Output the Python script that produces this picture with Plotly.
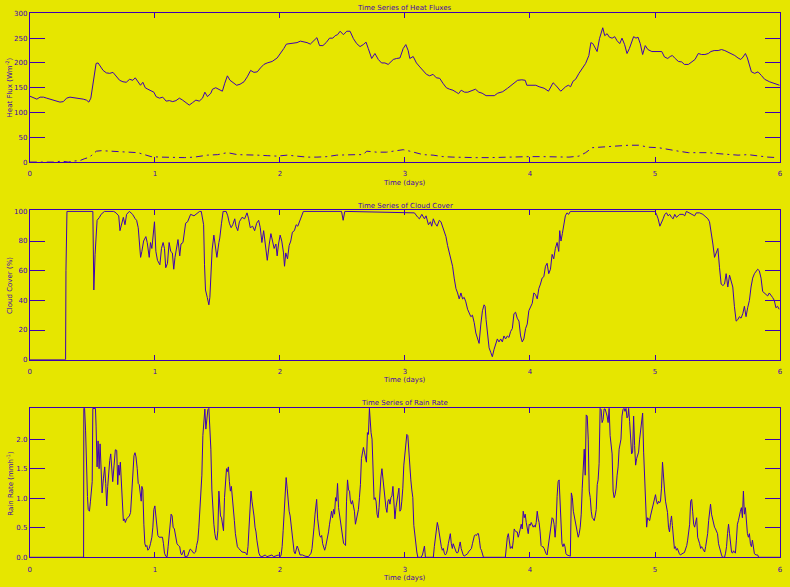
import plotly.graph_objects as go

# ---------------- data ----------------
days = [0, 1, 2, 3, 4, 5, 6]
heat_ticks = [0, 50, 100, 150, 200, 250, 300]
cloud_ticks = [0, 20, 40, 60, 80, 100]
rain_ticks = [0.0, 0.5, 1.0, 1.5, 2.0]

heat_t = [0.0, 0.029, 0.056, 0.082, 0.109, 0.135, 0.162, 0.188, 0.215, 0.241, 0.268, 0.294, 0.321, 0.347, 0.374, 0.400,
          0.427, 0.453, 0.472, 0.488, 0.498, 0.514, 0.530, 0.546, 0.565, 0.586, 0.612, 0.639, 0.665, 0.692, 0.718, 0.745,
          0.771, 0.798, 0.824, 0.843, 0.864, 0.885, 0.904, 0.923, 0.944, 0.970, 0.992, 1.010, 1.037, 1.063, 1.090, 1.116,
          1.143, 1.169, 1.196, 1.222, 1.249, 1.275, 1.302, 1.328, 1.355, 1.381, 1.400, 1.421, 1.448, 1.461, 1.487, 1.514,
          1.540, 1.559, 1.580, 1.601, 1.628, 1.654, 1.681, 1.713, 1.739, 1.766, 1.792, 1.819, 1.845, 1.872, 1.898, 1.938,
          1.978, 2.005, 2.031, 2.052, 2.084, 2.111, 2.137, 2.164, 2.190, 2.217, 2.243, 2.270, 2.296, 2.317, 2.344, 2.370,
          2.397, 2.423, 2.442, 2.461, 2.482, 2.508, 2.535, 2.561, 2.588, 2.614, 2.641, 2.667, 2.689, 2.707, 2.734, 2.760,
          2.787, 2.813, 2.840, 2.866,
          2.907, 2.933, 2.960, 2.986, 3.007, 3.026, 3.039, 3.066, 3.092, 3.119, 3.145, 3.172, 3.198, 3.225, 3.251, 3.278,
          3.304, 3.331, 3.357, 3.384, 3.410, 3.429, 3.450, 3.477, 3.503, 3.530, 3.564, 3.591, 3.617, 3.649, 3.676, 3.715,
          3.742, 3.782, 3.821, 3.861, 3.901, 3.935, 3.962, 3.975, 4.007, 4.047, 4.073, 4.113, 4.148, 4.166, 4.185, 4.206,
          4.227, 4.246, 4.264, 4.285, 4.307, 4.325, 4.344, 4.365, 4.392, 4.418, 4.445, 4.471, 4.487, 4.503, 4.524, 4.537,
          4.556, 4.572, 4.582, 4.598, 4.617, 4.635, 4.657, 4.678, 4.696, 4.718, 4.736, 4.757, 4.776, 4.795, 4.816, 4.829,
          4.848, 4.864, 4.882, 4.901, 4.922, 4.943, 4.975, 5.001, 5.028, 5.054, 5.076, 5.102, 5.121, 5.139, 5.161, 5.187,
          5.214, 5.235, 5.267, 5.293, 5.320, 5.346, 5.373, 5.399, 5.426, 5.447, 5.473, 5.505, 5.532, 5.558, 5.585, 5.611,
          5.638, 5.664, 5.686, 5.704, 5.723, 5.739, 5.757, 5.771, 5.797, 5.824, 5.850, 5.877, 5.916, 5.956, 5.996]
latent_flux = [133, 130, 127, 131, 131, 129, 127, 125, 123, 121, 122, 129, 131, 130, 129, 129,
               127, 125, 121, 129, 145, 172, 199, 200, 192, 185, 180, 179, 181, 172, 165, 162,
               161, 167, 165, 170, 162, 155, 161, 150, 147, 143, 141, 132, 129, 131, 123, 124,
               122, 124, 129, 125, 119, 115, 120, 125, 123, 129, 141, 132, 139, 147, 150, 147,
               143, 159, 174, 165, 159, 155, 157, 162, 172, 185, 181, 182, 190, 197, 200, 203,
               210, 219, 229, 238, 239, 239, 241, 244, 243, 241, 238, 245, 251, 235, 235, 241,
               250, 250, 255, 257, 264, 257, 264, 264, 249, 239, 233, 237, 242, 229, 209, 219,
               207, 200, 200, 197,
               207, 209, 210, 229, 237, 225, 209, 213, 200, 192, 185, 177, 174, 177, 170, 169,
               159, 150, 147, 145, 141, 138, 145, 141, 141, 143, 147, 141, 139, 134, 134, 134,
               139, 142, 149, 157, 165, 166, 165, 155, 155, 155, 152, 149, 143, 152, 160, 155,
               149, 143, 147, 152, 155, 152, 163, 167, 179, 189, 199, 215, 241, 239, 229, 223,
               249, 263, 271, 255, 259, 252, 250, 253, 245, 239, 250, 237, 219, 229, 243, 253,
               250, 252, 239, 217, 235, 227, 223, 223, 222, 223, 212, 209, 213, 215, 209, 203,
               202, 197, 197, 202, 207, 219, 217, 217, 219, 223, 225, 225, 227, 225, 222, 219,
               215, 210, 207, 212, 219, 210, 195, 182, 179, 182, 175, 167, 162, 159, 155]

sens_t = [0.0, 0.042, 0.122, 0.201, 0.254, 0.307, 0.347, 0.400, 0.440, 0.480, 0.506, 0.533, 0.573, 0.626, 0.705, 0.785,
          0.864, 0.917, 0.970, 1.050, 1.129, 1.235, 1.315, 1.368, 1.421, 1.501, 1.580, 1.660, 1.739, 1.819, 1.898, 1.978,
          2.058, 2.137, 2.217, 2.296, 2.376, 2.455, 2.535, 2.614, 2.667, 2.694, 2.774, 2.853, 2.933, 2.986, 3.039, 3.092,
          3.145, 3.225, 3.304, 3.384, 3.463, 3.569, 3.676, 3.782, 3.888, 3.994, 4.100, 4.206, 4.312, 4.392, 4.445, 4.498,
          4.551, 4.630, 4.710, 4.789, 4.869, 4.948, 5.028, 5.107, 5.187, 5.267, 5.346, 5.426, 5.505, 5.585, 5.664, 5.744,
          5.824, 5.903, 5.983]
sensible_flux = [0, 0, 0, 0, 2, 0, 2, 3, 7, 10, 17, 22, 23, 22, 21, 20,
                 19, 15, 11, 10, 9, 9, 10, 12, 14, 15, 19, 15, 15, 14, 13, 12,
                 14, 12, 10, 10, 11, 14, 15, 15, 15, 22, 20, 20, 23, 25, 22, 19,
                 15, 14, 11, 10, 9, 9, 9, 10, 11, 11, 11, 10, 10, 12, 19, 29,
                 30, 32, 34, 34, 34, 30, 29, 25, 22, 19, 19, 19, 17, 15, 14, 15,
                 12, 10, 9]

cloud_t = [0.0, 0.286, 0.289, 0.297, 0.504, 0.512, 0.522, 0.530, 0.538, 0.557, 0.570, 0.597, 0.671, 0.689, 0.711, 0.721,
           0.735, 0.748, 0.761, 0.774, 0.796, 0.822, 0.843, 0.854, 0.867, 0.875, 0.886, 0.896, 0.910, 0.928, 0.939, 0.955,
           0.965, 0.976, 0.989, 0.997, 1.008, 1.021, 1.040, 1.053, 1.066, 1.077, 1.087, 1.101, 1.114, 1.127, 1.140, 1.151,
           1.161, 1.175, 1.185, 1.199, 1.209, 1.225, 1.236, 1.246, 1.262, 1.286, 1.313, 1.339, 1.358, 1.371, 1.379, 1.390,
           1.397, 1.405, 1.419, 1.432, 1.440, 1.448, 1.458, 1.472, 1.485, 1.496, 1.512, 1.519, 1.533, 1.546, 1.570, 1.583,
           1.596, 1.610, 1.623, 1.639, 1.649, 1.663, 1.676, 1.697, 1.718, 1.737, 1.750, 1.763, 1.782, 1.798, 1.814, 1.830,
           1.843, 1.856, 1.870, 1.883, 1.899, 1.915, 1.928, 1.941, 1.954, 1.968, 1.978, 1.989, 2.002, 2.015, 2.029, 2.037,
           2.047, 2.061, 2.074, 2.087, 2.100, 2.116, 2.130, 2.143, 2.161, 2.175, 2.188, 2.493, 2.506, 2.519, 2.997, 3.036,
           3.076, 3.103, 3.116, 3.135, 3.156, 3.169, 3.188, 3.204, 3.214, 3.227, 3.241, 3.257, 3.275, 3.288, 3.302, 3.315,
           3.328, 3.341, 3.355, 3.368, 3.381, 3.394, 3.408, 3.421, 3.434, 3.448, 3.461, 3.474, 3.487, 3.501, 3.514, 3.527,
           3.540, 3.554, 3.567, 3.580, 3.593, 3.607, 3.620, 3.633, 3.641, 3.649, 3.660, 3.673, 3.686, 3.699, 3.713, 3.726,
           3.739, 3.752, 3.766, 3.779, 3.792, 3.805, 3.819, 3.832, 3.845, 3.859, 3.872, 3.885, 3.898, 3.912, 3.925, 3.938,
           3.951, 3.965, 3.978, 3.991, 4.005, 4.018, 4.031, 4.044, 4.058, 4.071, 4.084, 4.097, 4.111, 4.124, 4.137, 4.150,
           4.164, 4.177, 4.190, 4.203, 4.217, 4.230, 4.238, 4.248, 4.259, 4.270, 4.283, 4.296, 4.309, 4.323, 4.999, 5.012,
           5.025, 5.039, 5.052, 5.065, 5.078, 5.092, 5.105, 5.118, 5.132, 5.145, 5.158, 5.171, 5.185, 5.198, 5.224, 5.238,
           5.251, 5.317, 5.330, 5.357, 5.383, 5.397, 5.410, 5.423, 5.436, 5.450, 5.463, 5.476, 5.490, 5.503, 5.516, 5.529,
           5.543, 5.556, 5.569, 5.582, 5.596, 5.609, 5.622, 5.635, 5.649, 5.662, 5.675, 5.688, 5.702, 5.715, 5.728, 5.741,
           5.755, 5.768, 5.781, 5.795, 5.808, 5.821, 5.834, 5.848, 5.861, 5.874, 5.887, 5.901, 5.914, 5.927, 5.940, 5.954,
           5.967, 5.980, 5.993]
cloud_cover = [0, 0, 60, 100, 100, 47, 71, 81, 94, 96, 98, 100, 100, 99, 97, 87,
               93, 96, 91, 98, 100, 98, 95, 94, 89, 78, 69, 73, 80, 83, 79, 69,
               79, 75, 85, 93, 73, 67, 64, 75, 79, 75, 62, 65, 79, 73, 72, 61,
               69, 75, 81, 70, 78, 79, 86, 92, 93, 98, 97, 99, 100, 100, 95, 91,
               64, 47, 42, 37, 42, 60, 74, 84, 75, 69, 79, 82, 92, 100, 100, 97,
               92, 89, 91, 95, 90, 87, 93, 96, 95, 99, 95, 89, 90, 87, 92, 94,
               89, 79, 87, 78, 67, 78, 85, 80, 75, 78, 70, 78, 84, 80, 72, 63,
               72, 68, 77, 80, 86, 87, 91, 90, 94, 97, 100, 100, 94, 100, 99, 99,
               99, 96, 95, 98, 95, 97, 91, 93, 90, 95, 92, 90, 94, 93, 89, 86,
               83, 77, 72, 68, 63, 55, 48, 45, 41, 45, 41, 42, 39, 34, 32, 29,
               30, 25, 18, 14, 11, 24, 33, 37, 36, 27, 17, 8, 5, 2, 7, 11,
               14, 12, 14, 12, 16, 14, 16, 15, 19, 21, 31, 32, 28, 26, 16, 12,
               14, 21, 24, 33, 36, 38, 45, 44, 41, 48, 51, 55, 56, 63, 65, 58,
               61, 71, 68, 75, 79, 73, 87, 80, 85, 92, 97, 99, 98, 100, 100, 98,
               95, 90, 92, 95, 98, 99, 97, 98, 96, 95, 98, 96, 97, 98, 98, 97,
               100, 97, 99, 99, 98, 97, 96, 95, 93, 86, 78, 69, 73, 75, 62, 51,
               50, 51, 58, 49, 57, 53, 49, 36, 26, 27, 29, 28, 31, 36, 29, 35,
               40, 49, 55, 58, 60, 61, 60, 55, 46, 45, 44, 43, 45, 43, 42, 40,
               35, 36, 34]

rain_t = [0.0, 0.430, 0.432, 0.438, 0.446, 0.453, 0.461, 0.467, 0.477, 0.485, 0.493, 0.499, 0.504, 0.525, 0.530, 0.538,
          0.546, 0.554, 0.562, 0.570, 0.578, 0.589, 0.599, 0.607, 0.615, 0.623, 0.631, 0.639, 0.647, 0.655, 0.663, 0.674,
          0.684, 0.695, 0.703, 0.711, 0.716, 0.724, 0.732, 0.740, 0.748, 0.756, 0.764, 0.774, 0.785, 0.796, 0.806, 0.814,
          0.825, 0.833, 0.841, 0.849, 0.859, 0.867, 0.875, 0.883, 0.891, 0.896, 0.904, 0.912, 0.920, 0.928, 0.936, 0.944,
          0.955, 0.965, 0.976, 0.984, 0.992, 1.000, 1.008, 1.016, 1.024, 1.034, 1.047, 1.061, 1.069, 1.077, 1.087, 1.098,
          1.106, 1.114, 1.122, 1.130, 1.138, 1.146, 1.156, 1.167, 1.177, 1.188, 1.199, 1.207, 1.215, 1.225, 1.233, 1.241,
          1.262, 1.273, 1.283, 1.294, 1.305, 1.315, 1.326, 1.334, 1.344, 1.352, 1.360, 1.368, 1.376, 1.384, 1.392, 1.400,
          1.408, 1.416, 1.424, 1.432, 1.440, 1.448, 1.456, 1.464, 1.472, 1.480, 1.488, 1.496, 1.504, 1.512, 1.517, 1.525,
          1.533, 1.541, 1.549, 1.557, 1.565, 1.573, 1.580, 1.588, 1.596, 1.604, 1.612, 1.620, 1.628, 1.636, 1.644, 1.652,
          1.660, 1.671, 1.684, 1.697, 1.724, 1.737, 1.745, 1.753, 1.761, 1.769, 1.777, 1.785, 1.793, 1.801, 1.809, 1.816,
          1.824, 1.832, 1.843, 1.856, 1.883, 1.896, 1.936, 1.949, 1.989, 2.002, 2.010,
          2.018, 2.026, 2.034, 2.042, 2.050, 2.058, 2.066, 2.074, 2.082, 2.090, 2.098, 2.106, 2.114, 2.122, 2.130, 2.138,
          2.146, 2.153, 2.161, 2.180, 2.201, 2.228, 2.241, 2.249, 2.257, 2.265, 2.273, 2.281, 2.289, 2.294, 2.302, 2.310,
          2.318, 2.326, 2.334, 2.342, 2.350, 2.358, 2.366, 2.374, 2.381, 2.389, 2.397, 2.405, 2.413, 2.421, 2.429, 2.437,
          2.445, 2.453, 2.461, 2.469, 2.477, 2.485, 2.493, 2.501, 2.509, 2.517, 2.525, 2.533, 2.541, 2.549, 2.557, 2.564,
          2.572, 2.580, 2.588, 2.596, 2.604, 2.612, 2.620, 2.628, 2.636, 2.644, 2.652, 2.660, 2.668, 2.676, 2.684, 2.692,
          2.700, 2.708, 2.716, 2.721, 2.729, 2.737, 2.745, 2.753, 2.761, 2.769, 2.777, 2.785, 2.793, 2.800, 2.808, 2.816,
          2.824, 2.832, 2.840, 2.848, 2.856, 2.864, 2.872, 2.880, 2.888, 2.896, 2.904, 2.912, 2.920, 2.928, 2.936, 2.944,
          2.952, 2.960, 2.968, 2.975, 2.983, 2.991, 2.999, 3.007, 3.015, 3.023, 3.031, 3.039, 3.047, 3.055, 3.063, 3.071,
          3.079, 3.087, 3.095, 3.103, 3.129, 3.140, 3.148, 3.156, 3.164, 3.227, 3.235, 3.243, 3.251, 3.259, 3.267, 3.275,
          3.283, 3.291, 3.299, 3.307, 3.315, 3.323, 3.331, 3.339, 3.347, 3.355, 3.363, 3.371, 3.379, 3.386, 3.394, 3.402,
          3.410, 3.418, 3.426, 3.434, 3.442, 3.450, 3.458, 3.466, 3.474, 3.487, 3.501, 3.508, 3.524, 3.532, 3.540, 3.548,
          3.556, 3.564, 3.572, 3.580, 3.588, 3.596, 3.604, 3.612, 3.620, 3.628, 3.803, 3.811, 3.819, 3.827, 3.835, 3.843,
          3.851, 3.859, 3.867, 3.874, 3.882, 3.890, 3.898, 3.906, 3.914, 3.922, 3.930, 3.938, 3.946, 3.954, 3.962, 3.970,
          3.978, 3.986, 3.994, 4.002, 4.010, 4.018, 4.026, 4.034, 4.042, 4.050, 4.058, 4.066, 4.073, 4.081, 4.089, 4.097,
          4.105, 4.113, 4.121, 4.129, 4.137, 4.145, 4.153, 4.161, 4.169, 4.177, 4.185, 4.193, 4.201, 4.209, 4.217, 4.225,
          4.233, 4.241, 4.248, 4.256, 4.264, 4.272, 4.280, 4.288, 4.296, 4.323, 4.331, 4.339, 4.347, 4.355, 4.362, 4.370,
          4.378, 4.386, 4.394, 4.402, 4.410, 4.418, 4.426, 4.434, 4.442, 4.450, 4.458, 4.466, 4.474, 4.482, 4.490, 4.498,
          4.506, 4.514, 4.522, 4.530, 4.538, 4.545, 4.553, 4.561, 4.569, 4.577, 4.585, 4.593, 4.601, 4.617, 4.625, 4.633,
          4.641, 4.649, 4.657, 4.665, 4.673, 4.681, 4.689, 4.697, 4.705, 4.713, 4.721, 4.728, 4.736, 4.744, 4.752, 4.760,
          4.768, 4.776, 4.784, 4.789, 4.797, 4.805, 4.813, 4.821, 4.829, 4.837, 4.845, 4.853, 4.861, 4.869, 4.877, 4.885,
          4.893, 4.901, 4.909, 4.917, 4.925, 4.933, 4.941, 4.949, 4.957, 4.964, 4.972, 4.980, 4.988, 4.996, 5.004, 5.012,
          5.020, 5.028, 5.036, 5.044, 5.052, 5.060, 5.068, 5.076, 5.084, 5.092, 5.100, 5.108, 5.116, 5.124, 5.132, 5.139,
          5.147, 5.155, 5.163, 5.171, 5.179, 5.187, 5.195, 5.203, 5.214, 5.224, 5.235, 5.246, 5.254, 5.261, 5.269, 5.277,
          5.285, 5.293, 5.301, 5.309, 5.317, 5.325, 5.333, 5.341, 5.349, 5.357, 5.365, 5.373, 5.381, 5.389, 5.397, 5.405,
          5.413, 5.421, 5.429, 5.436, 5.444, 5.452, 5.460, 5.468, 5.476, 5.484, 5.492, 5.500, 5.508, 5.516, 5.524, 5.532,
          5.540, 5.556, 5.564, 5.572, 5.580, 5.588, 5.596, 5.604, 5.612, 5.620, 5.628, 5.635, 5.643, 5.651, 5.659, 5.667,
          5.675, 5.683, 5.691, 5.699, 5.707, 5.715, 5.723, 5.731, 5.739, 5.747, 5.755, 5.763, 5.771, 5.779, 5.787, 5.795,
          5.808, 5.821, 5.829, 6.0]
rain_rate = [0, 0, 2.52, 2.52, 2.14, 1.42, 1.03, 0.81, 0.78, 0.95, 1.14, 1.28, 2.52, 2.52, 2.22, 1.53,
             1.97, 1.50, 1.92, 1.28, 1.09, 1.34, 1.53, 1.25, 0.87, 1.20, 1.50, 1.64, 1.75, 1.45, 1.28, 1.56,
             1.82, 1.81, 1.23, 1.56, 1.39, 1.61, 1.23, 0.84, 0.62, 0.65, 0.59, 0.65, 0.67, 0.70, 0.76, 1.06,
             1.28, 1.72, 1.77, 1.70, 1.50, 1.25, 1.23, 1.06, 0.95, 1.20, 1.14, 0.56, 0.23, 0.18, 0.20, 0.12,
             0.15, 0.23, 0.34, 0.51, 0.81, 0.87, 0.65, 0.51, 0.37, 0.34, 0.34, 0.34, 0.23, 0.07, 0.02, 0.01,
             0.18, 0.34, 0.51, 0.73, 0.70, 0.51, 0.48, 0.34, 0.23, 0.20, 0.18, 0.07, 0.04, 0.09, 0.12, 0.01,
             0.02, 0.09, 0.14, 0.12, 0.08, 0.07, 0.09, 0.20, 0.29, 0.51, 0.78, 0.95, 1.39, 2.06, 2.33, 2.51,
             2.17, 2.39, 2.50, 2.52, 2.17, 1.83, 1.14, 0.78, 0.56, 0.40, 0.31, 0.29, 0.45, 1.12, 0.84, 0.70,
             0.67, 0.56, 0.45, 1.01, 1.23, 1.50, 1.45, 1.53, 1.28, 1.12, 1.20, 0.95, 0.70, 0.62, 0.40, 0.23,
             0.18, 0.15, 0.12, 0.09, 0.08, 0.04, 0.18, 0.51, 0.92, 1.12, 0.95, 0.84, 0.70, 0.51, 0.43, 0.29,
             0.15, 0.07, 0.02, 0.01, 0.04, 0.01, 0.04, 0.01, 0.04, 0.01, 0.04,
             0.18, 0.45, 0.73, 1.01, 1.35, 1.17, 0.95, 0.78, 0.70, 0.54, 0.40, 0.23, 0.09, 0.06, 0.12, 0.19,
             0.15, 0.09, 0.04, 0.04, 0.02, 0.01, 0.04, 0.07, 0.15, 0.29, 0.51, 0.73, 0.95, 0.98, 0.65, 0.45,
             0.37, 0.34, 0.37, 0.23, 0.15, 0.12, 0.18, 0.26, 0.37, 0.43, 0.56, 0.70, 0.78, 0.67, 0.81, 0.73,
             1.01, 0.95, 1.25, 0.84, 0.73, 0.62, 0.51, 0.34, 0.24, 0.22, 0.20, 0.95, 1.31, 1.14, 1.12, 0.95,
             0.90, 0.96, 0.84, 0.78, 0.56, 0.67, 0.78, 0.81, 1.01, 1.23, 1.67, 1.81, 1.86, 1.78, 1.67, 1.61,
             2.11, 2.08, 2.52, 2.33, 2.11, 2.00, 1.50, 0.98, 1.01, 0.95, 0.73, 0.67, 0.84, 1.14, 1.36, 1.50,
             1.31, 1.12, 0.95, 0.84, 0.76, 0.95, 0.98, 0.90, 1.01, 1.04, 1.20, 0.95, 0.65, 0.84, 0.95, 1.06,
             1.17, 0.78, 0.81, 0.95, 1.17, 1.56, 1.78, 2.00, 2.08, 2.06, 1.75, 1.61, 1.31, 1.14, 1.01, 0.54,
             0.34, 0.20, 0.09, 0.0, 0.0, 0.04, 0.12, 0.19, 0.0, 0.0, 0.18, 0.34, 0.45, 0.59, 0.51, 0.37,
             0.23, 0.18, 0.12, 0.15, 0.07, 0.04, 0.06, 0.12, 0.23, 0.34, 0.40, 0.23, 0.15, 0.23, 0.18, 0.12,
             0.09, 0.07, 0.09, 0.18, 0.26, 0.15, 0.07, 0.04, 0.02, 0.04, 0.06, 0.09, 0.12, 0.15, 0.23, 0.31,
             0.37, 0.38, 0.37, 0.40, 0.40, 0.29, 0.15, 0.12, 0.07, 0.0, 0.0, 0.18, 0.34, 0.40, 0.29, 0.15,
             0.18, 0.15, 0.29, 0.48, 0.45, 0.43, 0.43, 0.34, 0.40, 0.51, 0.56, 0.48, 0.78, 0.67, 0.73, 0.59,
             0.45, 0.40, 0.56, 0.54, 0.59, 0.56, 0.51, 0.54, 0.51, 0.59, 0.78, 0.65, 0.59, 0.43, 0.20, 0.18,
             0.18, 0.15, 0.09, 0.06, 0.04, 0.15, 0.29, 0.40, 0.56, 0.67, 0.65, 0.56, 0.34, 0.56, 1.03, 1.28,
             1.31, 0.95, 0.56, 0.23, 0.18, 0.23, 0.18, 0.06, 0.04, 0.02, 1.09, 1.01, 0.78, 0.67, 0.59, 0.51,
             0.43, 0.34, 0.40, 0.51, 0.73, 1.17, 1.61, 1.83, 1.39, 2.41, 2.39, 2.00, 1.12, 1.01, 0.78, 0.67,
             0.65, 0.62, 0.70, 0.81, 1.23, 1.31, 1.59, 2.52, 2.50, 2.28, 2.33, 2.51, 2.51, 2.39, 2.28, 2.52,
             2.06, 1.83, 1.75, 1.12, 1.01, 1.06, 1.17, 1.39, 1.53, 1.83, 1.92, 2.00, 2.39, 2.50, 2.52, 2.47,
             2.52, 2.36, 2.39, 2.52, 2.30, 1.89, 1.75, 1.78, 2.39, 1.89, 1.56, 1.67, 1.75, 1.78, 2.00, 2.19,
             2.39, 2.44, 1.78, 1.28, 0.70, 0.51, 0.67, 0.65, 0.62, 0.70, 0.78, 0.84, 0.90, 1.01, 1.06, 0.95,
             0.90, 0.95, 0.92, 0.95, 1.17, 1.61, 1.28, 1.14, 0.95, 0.84, 0.76, 0.51, 0.43, 0.59, 0.70, 0.54,
             0.29, 0.15, 0.18, 0.12, 0.15, 0.09, 0.06, 0.04, 0.06, 0.07, 0.08, 0.15, 0.20, 0.29, 0.40, 0.56,
             0.95, 0.98, 0.78, 0.56, 0.51, 0.62, 0.67, 0.34, 0.29, 0.23, 0.15, 0.18, 0.15, 0.12, 0.09, 0.18,
             0.29, 0.40, 0.62, 0.78, 0.90, 0.73, 0.65, 0.62, 0.51, 0.48, 0.45, 0.40, 0.23, 0.15, 0.08, 0.04,
             0.0, 0.0, 0.07, 0.18, 0.40, 0.56, 0.40, 0.18, 0.09, 0.07, 0.11, 0.09, 0.07, 0.29, 0.56, 0.62,
             0.73, 0.78, 0.84, 0.67, 1.12, 0.73, 0.84, 0.51, 0.40, 0.34, 0.40, 0.23, 0.18, 0.29, 0.20, 0.06,
             0.04, 0.04, 0.0, 0.0]

assert len(heat_t) == len(latent_flux), (len(heat_t), len(latent_flux))
assert len(sens_t) == len(sensible_flux), (len(sens_t), len(sensible_flux))
assert len(cloud_t) == len(cloud_cover), (len(cloud_t), len(cloud_cover))
assert len(rain_t) == len(rain_rate), (len(rain_t), len(rain_rate))

# ---------------- styling ----------------
FG = "#3f00b0"
BG = "#e6e600"
FONT = "DejaVu Sans"
W, H = 790, 587
X0, X1 = 28, 783
panels = [(10, 161), (210, 361), (410, 561)]  # top/bottom pixel rows of each plot box


def ydom(top, bot):
    return [1 - bot / H, 1 - top / H]


fig = go.Figure()
line = dict(color=FG, width=1)
fig.add_trace(go.Scatter(x=heat_t, y=latent_flux, mode="lines", line=line, xaxis="x", yaxis="y", name="Latent"))
fig.add_trace(go.Scatter(x=sens_t, y=sensible_flux, mode="lines",
                         line=dict(color=FG, width=1, dash="7px,4px,2px,4px"), xaxis="x", yaxis="y", name="Sensible"))
fig.add_trace(go.Scatter(x=cloud_t, y=cloud_cover, mode="lines", line=line, xaxis="x2", yaxis="y2", name="Cloud"))
fig.add_trace(go.Scatter(x=rain_t, y=rain_rate, mode="lines", line=line, xaxis="x3", yaxis="y3", name="Rain"))

tickfont = dict(family=FONT, size=7, color=FG)
xcommon = dict(range=[0, 6], tickvals=days, ticktext=[str(d) for d in days], ticks="inside", ticklen=5,
               tickwidth=1, tickcolor=FG, showline=True, linecolor=FG, linewidth=1, mirror="ticks",
               showgrid=False, zeroline=False, tickfont=tickfont, ticklabelstandoff=5,
               domain=[X0 / W, X1 / W])
ycommon = dict(ticks="inside", ticklen=15, tickwidth=1, tickcolor=FG, showline=True, linecolor=FG,
               linewidth=1, mirror="ticks", showgrid=False, zeroline=False, tickfont=tickfont)

layout = dict(width=W, height=H, paper_bgcolor=BG, plot_bgcolor=BG, showlegend=False,
              margin=dict(l=0, r=0, t=0, b=0))
layout["xaxis"] = dict(xcommon, anchor="y")
layout["xaxis2"] = dict(xcommon, anchor="y2")
layout["xaxis3"] = dict(xcommon, anchor="y3")
layout["yaxis"] = dict(ycommon, anchor="x", domain=ydom(*panels[0]), range=[0, 301],
                       tickvals=heat_ticks, ticktext=[str(v) for v in heat_ticks])
layout["yaxis2"] = dict(ycommon, anchor="x2", domain=ydom(*panels[1]), range=[0, 100.6],
                        tickvals=cloud_ticks, ticktext=[str(v) for v in cloud_ticks])
layout["yaxis3"] = dict(ycommon, anchor="x3", domain=ydom(*panels[2]), range=[0, 2.525],
                        tickvals=rain_ticks, ticktext=["%.1f" % v for v in rain_ticks])
fig.update_layout(**layout)

titles = ["Time Series of Heat Fluxes", "Time Series of Cloud Cover", "Time Series of Rain Rate"]
ytitles = ["Heat Flux (Wm<sup>-2</sup>)", "Cloud Cover (%)", "Rain Rate (mmh<sup>-1</sup>)"]
afont = dict(family=FONT, size=7, color=FG)
cx = (X0 + X1) / 2 / W
for (top, bot), t, yt in zip(panels, titles, ytitles):
    fig.add_annotation(text=t, x=cx, y=1 - (top - 5) / H, xref="paper", yref="paper",
                       showarrow=False, xanchor="center", yanchor="middle", font=afont)
    fig.add_annotation(text="Time (days)", x=cx, y=1 - (bot + 21) / H, xref="paper", yref="paper",
                       showarrow=False, xanchor="center", yanchor="middle", font=afont)
    fig.add_annotation(text=yt, x=8 / W, y=1 - (top + bot) / 2 / H, xref="paper", yref="paper",
                       showarrow=False, xanchor="center", yanchor="middle", textangle=-90, font=afont)

fig.write_html("out.html", config={"displayModeBar": False},
               post_script="document.body.style.margin='0';document.body.style.overflow='hidden';")
